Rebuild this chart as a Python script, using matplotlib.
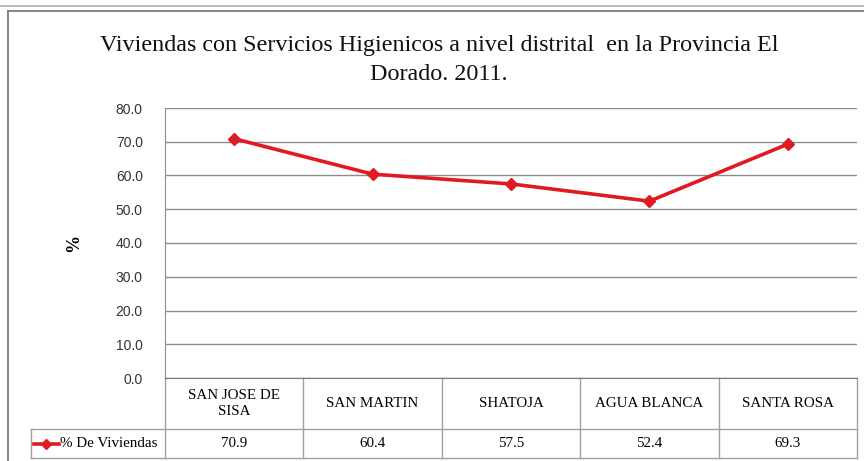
import matplotlib.pyplot as plt
from matplotlib.lines import Line2D

categories = ["SAN JOSE DE\nSISA", "SAN MARTIN", "SHATOJA", "AGUA BLANCA", "SANTA ROSA"]
values = [70.9, 60.4, 57.5, 52.4, 69.3]
series_name = "% De Viviendas"
yticks = [0, 10, 20, 30, 40, 50, 60, 70, 80]

W, H = 864, 461
fig = plt.figure(figsize=(W / 100, H / 100), dpi=100)

# plot area in pixel coords: x 165..857, y 108..378 (from top)
x0, x1, ytop, ybot = 165, 857, 108, 378
ax = fig.add_axes([x0 / W, (H - ybot) / H, (x1 - x0) / W, (ybot - ytop) / H])

red = "#e01a22"
grid_c = "#8c8c8c"
ax.plot(range(len(values)), values, color=red, lw=2.6, marker="D", markersize=6.5,
        markeredgecolor=red, clip_on=False, zorder=3)
ax.set_xlim(-0.5, len(categories) - 0.5)
ax.set_ylim(0, 80)
ax.set_yticks(yticks)
ax.set_yticklabels([f"{v:.1f}" for v in yticks], fontfamily="Liberation Sans",
                   fontsize=10, color="#333333")
ax.tick_params(axis="y", length=0, pad=16)
ax.set_xticks([])
ax.grid(axis="y", color=grid_c, lw=1)
for s in ["top", "right"]:
    ax.spines[s].set_visible(False)
ax.spines["left"].set_color(grid_c)
ax.spines["bottom"].set_color("#777777")

ax.set_ylabel("%", fontfamily="Liberation Serif", fontsize=13, fontweight="bold",
              labelpad=24)

# data table below the axis
ph = ybot - ytop
tr = ax.get_xaxis_transform()
r1 = -(429 - ybot) / ph
r2 = -(458 - ybot) / ph
left_cell = -0.5 - (x0 - 31) / (x1 - x0) * len(categories)
tc = "#a0a0a0"
for y in [r1, r2]:
    ax.add_line(Line2D([left_cell, 4.5], [y, y], transform=tr, color=tc, lw=1,
                       clip_on=False))
for xb in [k - 0.5 for k in range(len(categories) + 1)]:
    ax.add_line(Line2D([xb, xb], [0, r2], transform=tr, color=tc, lw=1, clip_on=False))
ax.add_line(Line2D([left_cell, left_cell], [r1, r2], transform=tr, color=tc, lw=1,
                   clip_on=False))
for i, (c, v) in enumerate(zip(categories, values)):
    ax.text(i, r1 / 2, c, transform=tr, ha="center", va="center",
            fontfamily="Liberation Serif", fontsize=10.8, linespacing=1.35)
    ax.text(i, (r1 + r2) / 2, f"{v:.1f}", transform=tr, ha="center", va="center",
            fontfamily="Liberation Serif", fontsize=10.8)

# legend key in the table
lx0 = left_cell + 0.02
lx1 = left_cell + 0.2
ym = (r1 + r2) / 2
ax.add_line(Line2D([lx0, lx1], [ym, ym], transform=tr, color=red, lw=2.6, clip_on=False))
ax.add_line(Line2D([(lx0 + lx1) / 2], [ym], transform=tr, color=red, marker="D",
                   markersize=5.5, clip_on=False))
ax.text(lx1 + 0.01, ym, series_name, transform=tr, ha="left", va="center",
        fontfamily="Liberation Serif", fontsize=10.8)

# title and frame
fig.text(0.508, 1 - 45 / H,
         "Viviendas con Servicios Higienicos a nivel distrital  en la Provincia El",
         ha="center", va="center", fontfamily="Liberation Serif", fontsize=17.4,
         color="#111111")
fig.text(0.508, 1 - 75 / H, "Dorado. 2011.", ha="center", va="center",
         fontfamily="Liberation Serif", fontsize=17.4, color="#111111")
fig.add_artist(Line2D([0, 1], [1 - 6 / H, 1 - 6 / H], transform=fig.transFigure,
                      color="#b0b0b0", lw=1.2))
fig.add_artist(Line2D([8 / W, 1], [1 - 11 / H, 1 - 11 / H], transform=fig.transFigure,
                      color="#707070", lw=1.2))
fig.add_artist(Line2D([8 / W, 8 / W], [0, 1 - 11 / H], transform=fig.transFigure,
                      color="#707070", lw=1.2))

fig.savefig("out.png", dpi=100)
